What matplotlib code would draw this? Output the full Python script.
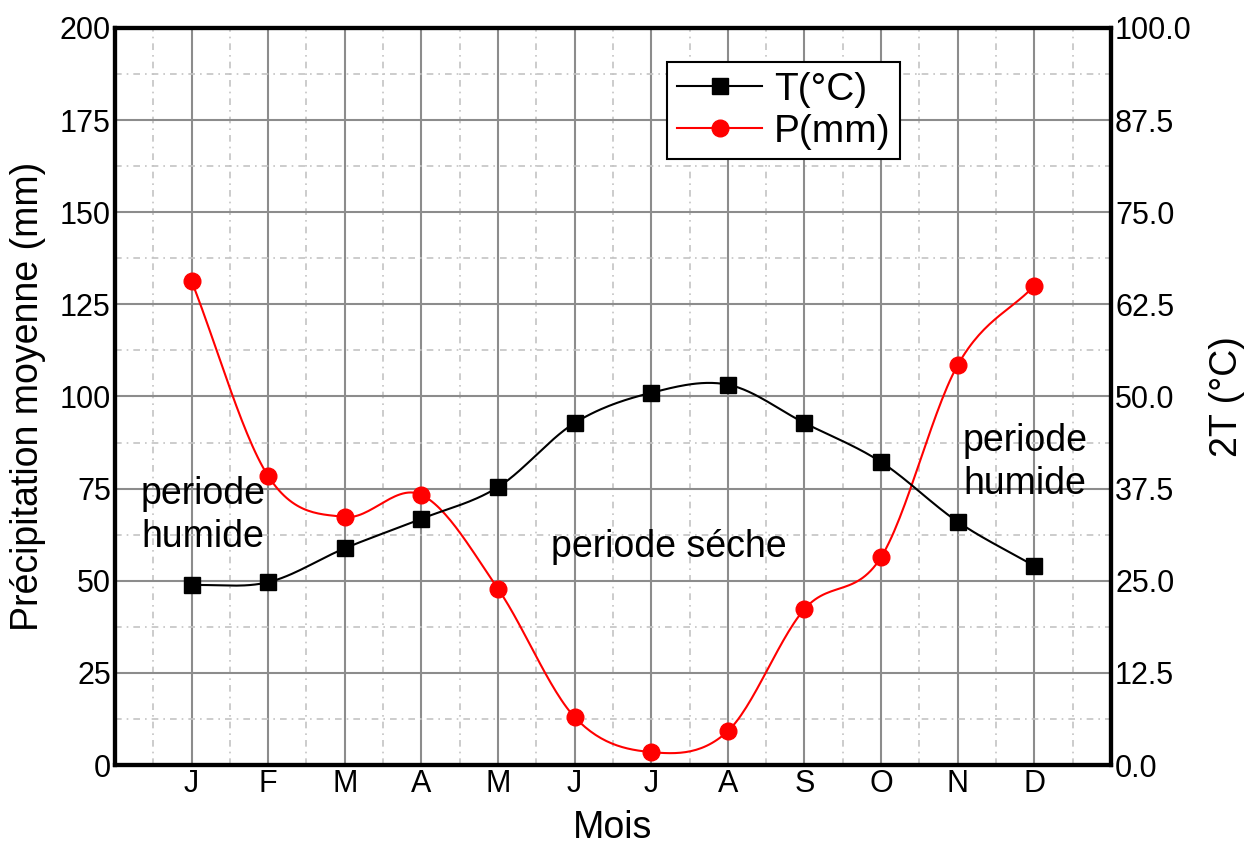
import numpy as np
import matplotlib
matplotlib.use("Agg")
import matplotlib.pyplot as plt
from matplotlib.ticker import MultipleLocator, FormatStrFormatter

plt.rcParams['font.family'] = ['Liberation Sans', 'DejaVu Sans']

# data
months = ['J', 'F', 'M', 'A', 'M', 'J', 'J', 'A', 'S', 'O', 'N', 'D']
precip = [131.3, 78.4, 67.3, 73.3, 47.8, 13.0, 3.5, 9.2, 42.3, 56.4, 108.5, 130.0]   # P(mm), left axis
temp2 = [24.4, 24.8, 29.4, 33.4, 37.7, 46.4, 50.5, 51.6, 46.4, 41.1, 33.0, 27.0]    # T, right axis (0-100)


def smooth(x, y, n=30):
    # catmull-rom curve through the points, only used to draw the line
    x = np.asarray(x, float)
    y = np.asarray(y, float)
    px = np.concatenate([[2 * x[0] - x[1]], x, [2 * x[-1] - x[-2]]])
    py = np.concatenate([[2 * y[0] - y[1]], y, [2 * y[-1] - y[-2]]])
    xs, ys = [], []
    t = np.linspace(0, 1, n)
    for i in range(1, len(px) - 2):
        for p, out in ((px, xs), (py, ys)):
            p0, p1, p2, p3 = p[i - 1], p[i], p[i + 1], p[i + 2]
            out.extend(0.5 * ((2 * p1) + (-p0 + p2) * t + (2 * p0 - 5 * p1 + 4 * p2 - p3) * t ** 2
                              + (-p0 + 3 * p1 - 3 * p2 + p3) * t ** 3))
    return xs, ys


x = np.arange(1, len(months) + 1)

fig = plt.figure(figsize=(12.55, 8.47), dpi=100)
ax = fig.add_axes([0.0916, 0.0968, 0.7936, 0.8703])
ax2 = ax.twinx()

ax.set_xlim(0, 13)
ax.set_ylim(0, 200)
ax2.set_ylim(0, 100)

# grid
ax.xaxis.set_major_locator(MultipleLocator(1))
ax.xaxis.set_minor_locator(MultipleLocator(0.5))
ax.yaxis.set_major_locator(MultipleLocator(25))
ax.yaxis.set_minor_locator(MultipleLocator(12.5))
ax.grid(which='major', color='#8c8c8c', lw=1.5)
ax.grid(which='minor', color='#c4c4c4', lw=1.2, linestyle=(0, (4, 3, 1, 3)))
ax.set_axisbelow(True)
ax.set_xticks(x)
ax.set_xticklabels(months)

ax2.yaxis.set_major_locator(MultipleLocator(12.5))
ax2.yaxis.set_major_formatter(FormatStrFormatter('%.1f'))

for a in (ax, ax2):
    for s in a.spines.values():
        s.set_linewidth(3)
    a.tick_params(which='both', direction='in', length=0, labelsize=22, pad=3)
ax.tick_params(axis='x', pad=3)

# curves
sx, sy = smooth(x, precip)
ax.plot(sx, sy, color='red', lw=1.5)
ax.plot(x, precip, 'o', color='red', ms=12)

tx, ty = smooth(x, temp2)
ax2.plot(tx, ty, color='black', lw=1.5)
ax2.plot(x, temp2, 's', color='black', ms=12)

ax.set_xlabel('Mois', fontsize=27, labelpad=8)
ax.set_ylabel('Précipitation moyenne (mm)', fontsize=27, labelpad=10)
ax2.set_ylabel('2T (°C)', fontsize=27, labelpad=12)

ax.text(1.15, 67.8, 'periode\nhumide', fontsize=27, ha='center', va='center', linespacing=1.25)
ax.text(11.88, 82.2, 'periode\nhumide', fontsize=27, ha='center', va='center', linespacing=1.25)
ax.text(7.23, 59.2, 'periode séche', fontsize=27, ha='center', va='center')

hT, = ax2.plot([], [], '-s', color='black', lw=1.5, ms=12)
hP, = ax2.plot([], [], '-o', color='red', lw=1.5, ms=12)
leg = ax2.legend([hT, hP], ['T(°C)', 'P(mm)'], fontsize=28, loc='upper left',
                 bbox_to_anchor=(667 / 1255, 1 - 62 / 847), bbox_transform=fig.transFigure,
                 fancybox=False, framealpha=1, edgecolor='black', handlelength=2.2,
                 borderpad=0.25, labelspacing=0.15, handletextpad=0.3, borderaxespad=0)
leg.get_frame().set_linewidth(1.5)

fig.savefig('out.png', dpi=100)
